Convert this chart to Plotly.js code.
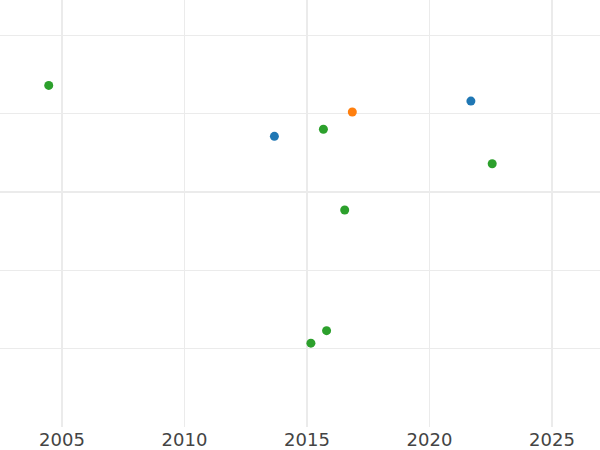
<!DOCTYPE html>
<html>
<head>
<meta charset="utf-8">
<script src="https://cdn.plot.ly/plotly-3.0.1.min.js"></script>
<style>html,body{margin:0;padding:0;background:#fff;}#chart{width:600px;height:450px;}</style>
</head>
<body>
<div id="chart"></div>
<script>
// Series: year (x) and value (y); y scale is unlabeled in the reference
const blueYears = [2013.67, 2021.69];
const blueValues = [3.71, 4.16];
const orangeYears = [2016.85];
const orangeValues = [4.02];
const greenYears = [2004.46, 2015.67, 2022.56, 2016.54, 2015.80, 2015.16];
const greenValues = [4.36, 3.80, 3.36, 2.77, 1.23, 1.07];
const xTickValues = [2005, 2010, 2015, 2020, 2025];
const xTickLabels = ['2005', '2010', '2015', '2020', '2025'];

function series(x, y, color) {
  return {
    type: 'scatter', mode: 'markers', x: x, y: y,
    marker: {color: color, size: 9},
    showlegend: false, hoverinfo: 'x+y'
  };
}

const data = [
  series(blueYears, blueValues, '#1f77b4'),
  series(orangeYears, orangeValues, '#ff7f0e'),
  series(greenYears, greenValues, '#2ca02c')
];

const layout = {
  width: 600, height: 450,
  margin: {l: 0, r: 0, t: 0, b: 23, pad: 0},
  paper_bgcolor: '#ffffff', plot_bgcolor: '#ffffff',
  showlegend: false,
  font: {family: 'DejaVu Sans, sans-serif', size: 18, color: '#444444'},
  xaxis: {
    range: [2002.47, 2026.96],
    tickmode: 'array', tickvals: xTickValues, ticktext: xTickLabels,
    showgrid: true, gridcolor: '#ebebeb', gridwidth: 1.5,
    zeroline: false, showline: false, ticks: '',
    tickfont: {size: 18, color: '#444444'}
  },
  yaxis: {
    range: [0, 5.45],
    tickmode: 'linear', tick0: 0, dtick: 1,
    showticklabels: false,
    showgrid: true, gridcolor: '#ebebeb', gridwidth: 1.5,
    zeroline: false, showline: false, ticks: ''
  }
};

Plotly.newPlot('chart', data, layout, {displayModeBar: false, staticPlot: true});
</script>
</body>
</html>
